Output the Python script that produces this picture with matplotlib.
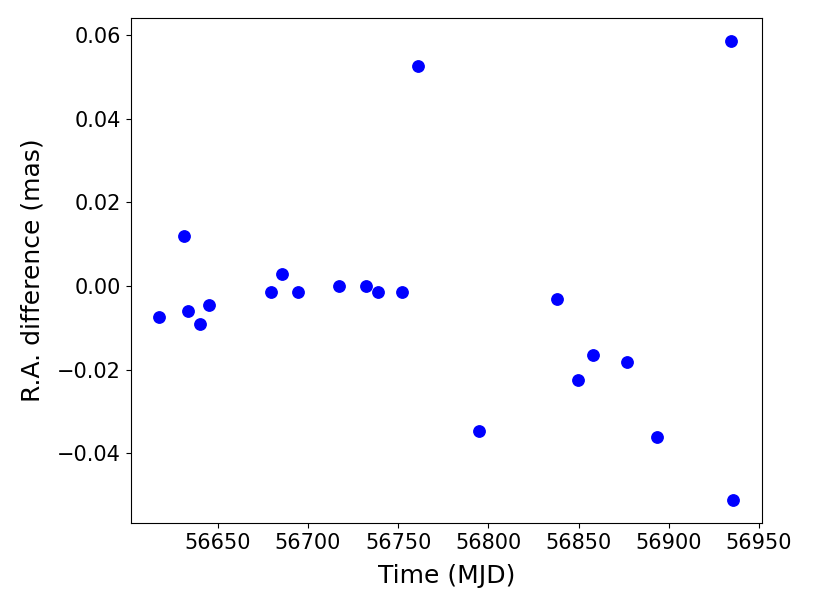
import numpy as np
import matplotlib.pyplot as plt

# observation epochs (MJD) and R.A. differences (mas)
mjd = np.array([56617.7, 56631.5, 56633.7, 56640.4, 56645.3, 56679.5,
                56685.4, 56694.5, 56717.2, 56732.1, 56739.1, 56752.0,
                56760.9, 56794.7, 56837.9, 56849.9, 56858.0, 56876.6,
                56893.6, 56934.2, 56935.7])
ra_diff = np.array([-0.0074, 0.0120, -0.0060, -0.0091, -0.0045, -0.0015,
                    0.0029, -0.0015, 0.0000, 0.0000, -0.0015, -0.0015,
                    0.0526, -0.0347, -0.0030, -0.0225, -0.0165, -0.0182,
                    -0.0361, 0.0586, -0.0512])


def main():
    fig, ax = plt.subplots(figsize=(8.14, 6.1), dpi=100)
    fig.subplots_adjust(left=0.1606, right=0.936, top=0.9705, bottom=0.1426)

    ax.plot(mjd, ra_diff, 'o', color='blue', markersize=8.2)
    ax.set_xlabel('Time (MJD)', fontsize=18, labelpad=8)
    ax.set_ylabel('R.A. difference (mas)', fontsize=18, labelpad=9)
    ax.tick_params(labelsize=15)

    fig.savefig('out.png')


if __name__ == "__main__":
    main()
